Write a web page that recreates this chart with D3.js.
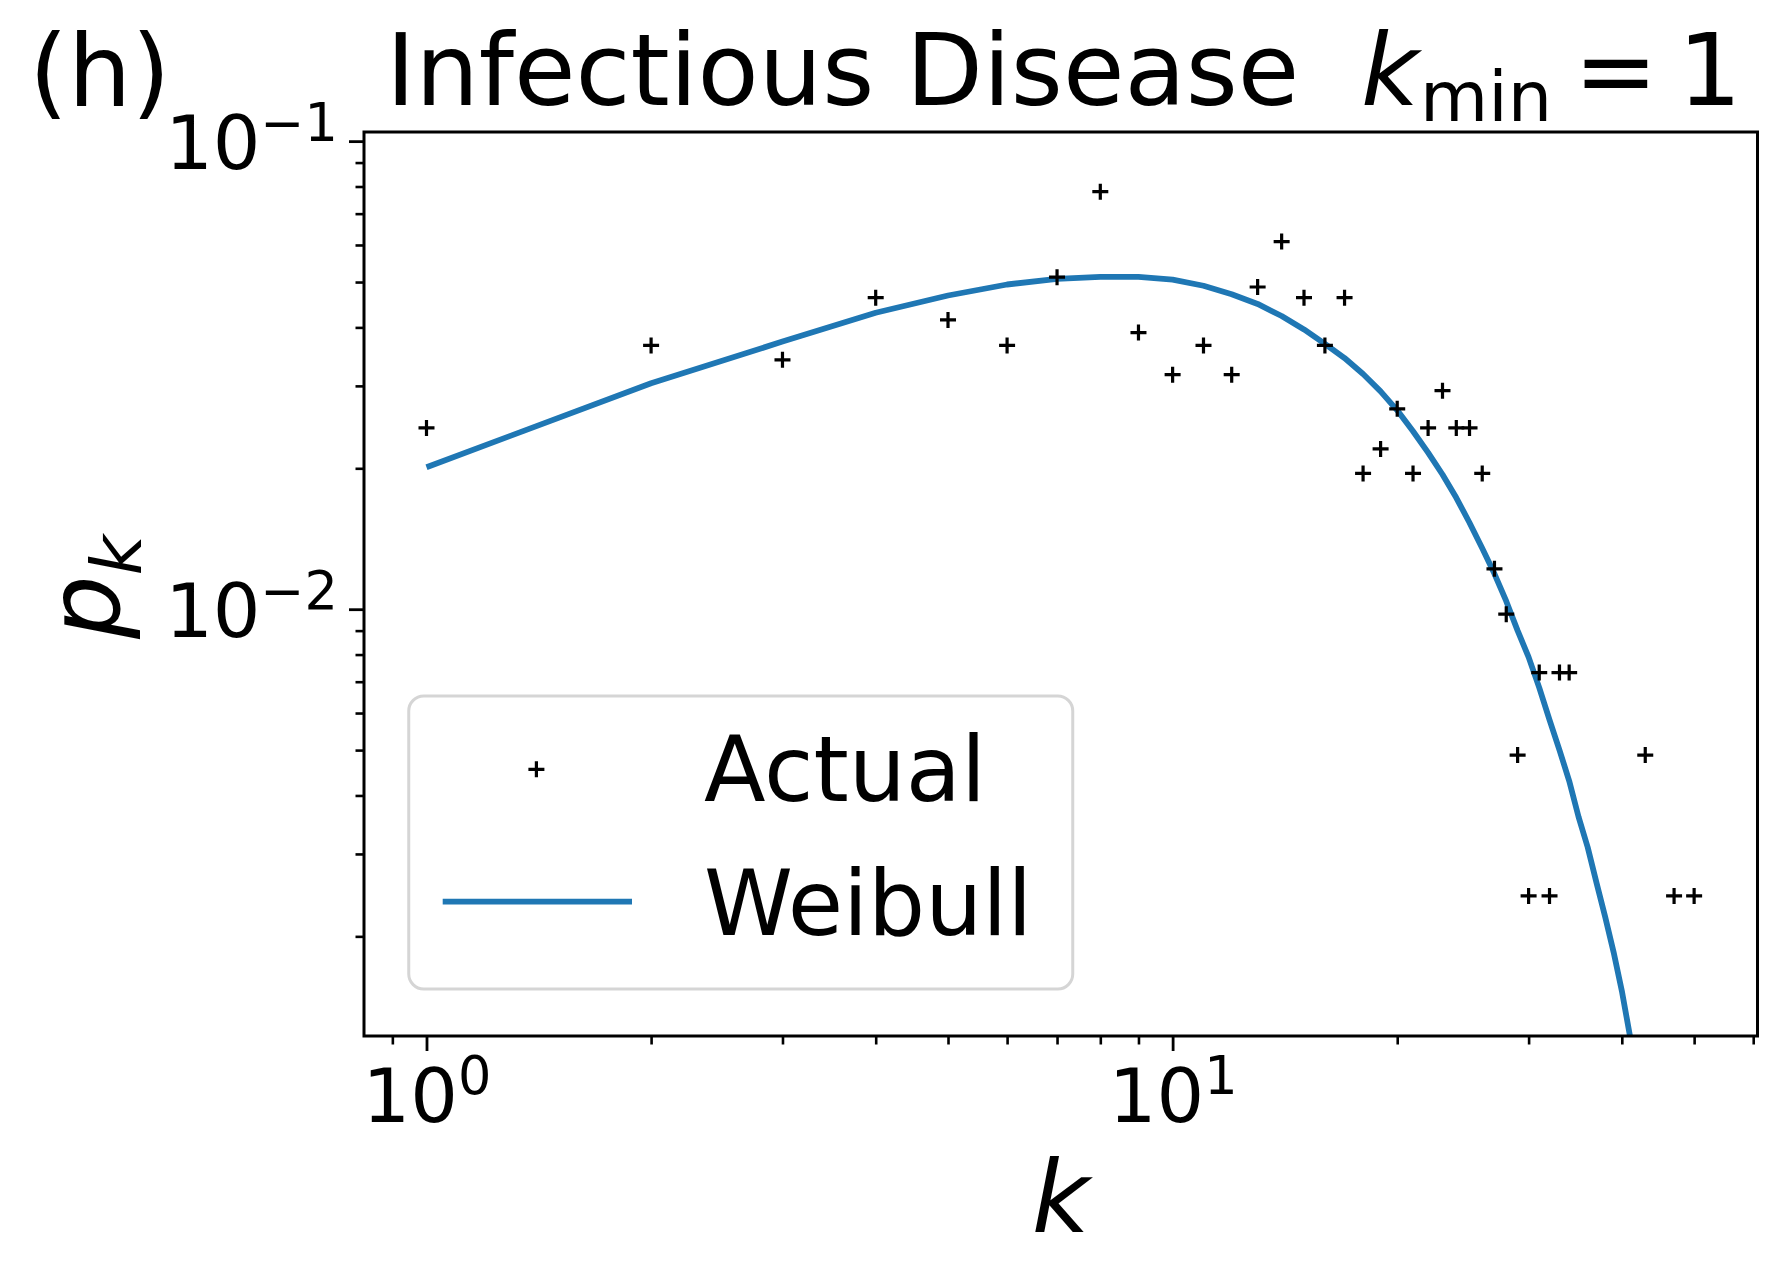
<!DOCTYPE html>
<html>
<head>
<meta charset="utf-8">
<script src="https://cdn.jsdelivr.net/npm/d3@7"></script>
<style>
  html, body { margin: 0; padding: 0; background: #fff; }
  svg { display: block; font-family: "DejaVu Sans", sans-serif; }
</style>
</head>
<body>
<svg id="chart" width="1788" height="1283"></svg>
<script>
// -----------------------
// Data
// -----------------------
// Actual degree distribution (k, p_k)
const actualK = [1, 2, 3, 4, 5, 6, 7, 8, 9, 10, 11, 12, 13, 14, 15, 16, 17,
  18, 19, 20, 21, 22, 23, 24, 25, 26, 27, 28, 29, 30, 31, 32, 33, 34, 43, 47, 50];
const actualP = [0.0244, 0.0366, 0.0341, 0.0463, 0.0415, 0.0366, 0.0512, 0.0780,
  0.0390, 0.0317, 0.0366, 0.0317, 0.0488, 0.0610, 0.0463, 0.0366, 0.0463,
  0.0195, 0.0220, 0.0268, 0.0195, 0.0244, 0.0293, 0.0244, 0.0244, 0.0195,
  0.0122, 0.00976, 0.00488, 0.00244, 0.00732, 0.00244, 0.00732, 0.00732,
  0.00488, 0.00244, 0.00244];

// Weibull fit line
const weibullK = [1, 2, 3, 4, 5, 6, 7, 8, 9, 10, 11, 12, 13, 14, 15, 16, 17, 18,
  19, 20, 21, 22, 23, 24, 25, 26, 27, 28, 29, 30, 31, 32, 33, 34, 35, 36, 37, 38,
  39, 40, 41, 42];
const weibullP = [0.0201, 0.0304, 0.0373, 0.0430, 0.0468, 0.0494, 0.0508, 0.0513,
  0.0513, 0.0506, 0.0491, 0.0471, 0.0449, 0.0423, 0.0396, 0.0369, 0.0344, 0.0318,
  0.0292, 0.0266, 0.0240, 0.0216, 0.0194, 0.0173, 0.0153, 0.0135, 0.0119, 0.0104,
  0.0090, 0.0079, 0.0068, 0.0058, 0.0050, 0.0043, 0.0036, 0.0031, 0.0026, 0.0022,
  0.00185, 0.00153, 0.00123, 0.00098];

// Ticks
const xMajor = [1, 10];
const xMajorExp = ["0", "1"];
const xMinor = [0.9, 2, 3, 4, 5, 6, 7, 8, 9, 20, 30, 40, 50, 60];
const yMajor = [0.01, 0.1];
const yMajorExp = ["\u22122", "\u22121"];
const yMinor = [0.002, 0.003, 0.004, 0.005, 0.006, 0.007, 0.008, 0.009,
  0.02, 0.03, 0.04, 0.05, 0.06, 0.07, 0.08, 0.09];

const legendLabels = ["Actual", "Weibull"];

// -----------------------
// Layout
// -----------------------
const plot = { left: 364, right: 1757.5, top: 132, bottom: 1036 };
const blue = "#1f77b4";
const font = "'DejaVu Sans', sans-serif";

const svg = d3.select("#chart");

const x = d3.scaleLog().domain([0.8246, 60.8]).range([plot.left, plot.right]);
const y = d3.scaleLog().domain([0.001225, 0.1046]).range([plot.bottom, plot.top]);

svg.append("clipPath").attr("id", "clip")
  .append("rect")
  .attr("x", plot.left).attr("y", plot.top)
  .attr("width", plot.right - plot.left).attr("height", plot.bottom - plot.top);

// Weibull line
const line = d3.line()
  .x((d, i) => x(weibullK[i]))
  .y(d => y(d));

svg.append("path")
  .datum(weibullP)
  .attr("clip-path", "url(#clip)")
  .attr("fill", "none")
  .attr("stroke", blue)
  .attr("stroke-width", 5.8)
  .attr("stroke-linejoin", "round")
  .attr("d", line);

// Actual points as "+" markers
const marker = (sel, cx, cy) => {
  sel.append("path")
    .attr("d", `M${cx - 8},${cy}H${cx + 8}M${cx},${cy - 8}V${cy + 8}`)
    .attr("stroke", "#000")
    .attr("stroke-width", 3.2)
    .attr("fill", "none");
};
const pts = svg.append("g").attr("clip-path", "url(#clip)");
actualP.forEach((p, i) => marker(pts, x(actualK[i]), y(p)));

// Frame
svg.append("rect")
  .attr("x", plot.left).attr("y", plot.top)
  .attr("width", plot.right - plot.left).attr("height", plot.bottom - plot.top)
  .attr("fill", "none").attr("stroke", "#000").attr("stroke-width", 3);

// -----------------------
// Axes
// -----------------------
function styleTicks(g, w) {
  g.select(".domain").remove();
  g.attr("font-family", font);
  g.selectAll(".tick line").attr("stroke", "#000").attr("stroke-width", w);
}

svg.append("g")
  .attr("transform", `translate(0,${plot.bottom})`)
  .call(d3.axisBottom(x).tickValues(xMinor).tickSize(8.5).tickFormat(""))
  .call(g => styleTicks(g, 2.6))
  .selectAll("text").remove();

const xAxis = svg.append("g")
  .attr("transform", `translate(0,${plot.bottom})`)
  .call(d3.axisBottom(x).tickValues(xMajor).tickSize(15).tickFormat(""))
  .call(g => styleTicks(g, 2.8));

xAxis.selectAll(".tick text")
  .attr("y", 86).attr("dy", 0)
  .attr("font-size", 75).attr("fill", "#000")
  .attr("text-anchor", "middle")
  .each(function(d, i) {
    const t = d3.select(this);
    t.append("tspan").text("10");
    t.append("tspan").attr("dy", -28.3).attr("font-size", 52.5).text(xMajorExp[i]);
  });

svg.append("g")
  .attr("transform", `translate(${plot.left},0)`)
  .call(d3.axisLeft(y).tickValues(yMinor).tickSize(8.5).tickFormat(""))
  .call(g => styleTicks(g, 2.6))
  .selectAll("text").remove();

const yAxis = svg.append("g")
  .attr("transform", `translate(${plot.left},0)`)
  .call(d3.axisLeft(y).tickValues(yMajor).tickSize(15).tickPadding(11).tickFormat(""))
  .call(g => styleTicks(g, 2.8));

yAxis.selectAll(".tick text")
  .attr("dy", 27.6)
  .attr("font-size", 75).attr("fill", "#000")
  .attr("text-anchor", "end")
  .each(function(d, i) {
    const t = d3.select(this);
    t.append("tspan").text("10");
    t.append("tspan").attr("dy", -28.3).attr("font-size", 52.5).text(yMajorExp[i]);
  });

// Axis labels
svg.append("text")
  .attr("x", (plot.left + plot.right) / 2)
  .attr("y", 1231.5)
  .attr("text-anchor", "middle")
  .attr("font-size", 100)
  .attr("font-style", "italic")
  .text("k");

const yLab = svg.append("text")
  .attr("transform", `translate(119,587) rotate(-90)`)
  .attr("text-anchor", "middle")
  .attr("font-size", 100)
  .attr("font-style", "italic");
yLab.append("tspan").text("p");
yLab.append("tspan").attr("dy", 21.6).attr("font-size", 70).text("k");

// Title
const title = svg.append("text").attr("y", 105).attr("font-size", 100);
title.append("tspan").attr("x", 386).text("Infectious Disease");
title.append("tspan").attr("x", 1361).attr("font-style", "italic").text("k");
title.append("tspan").attr("x", 1420).attr("dy", 15.5).attr("font-size", 70).text("min");
title.append("tspan").attr("x", 1574).attr("dy", -15.5).text("=");
title.append("tspan").attr("x", 1678).text("1");

svg.append("text")
  .attr("x", 29).attr("y", 106)
  .attr("font-size", 100)
  .text("(h)");

// -----------------------
// Legend
// -----------------------
const leg = svg.append("g");
leg.append("rect")
  .attr("x", 408.75).attr("y", 696)
  .attr("width", 664).attr("height", 293)
  .attr("rx", 15).attr("ry", 15)
  .attr("fill", "#fff").attr("fill-opacity", 0.8)
  .attr("stroke", "#d5d5d5").attr("stroke-width", 3);

marker(leg, 536.4, 769.3);
leg.append("line")
  .attr("x1", 442.7).attr("x2", 632)
  .attr("y1", 901.7).attr("y2", 901.7)
  .attr("stroke", blue).attr("stroke-width", 5.8);

leg.selectAll(".lab")
  .data(legendLabels)
  .join("text")
  .attr("class", "lab")
  .attr("x", 704)
  .attr("y", (d, i) => i === 0 ? 800.5 : 935)
  .attr("font-size", 90)
  .text(d => d);
</script>
</body>
</html>
